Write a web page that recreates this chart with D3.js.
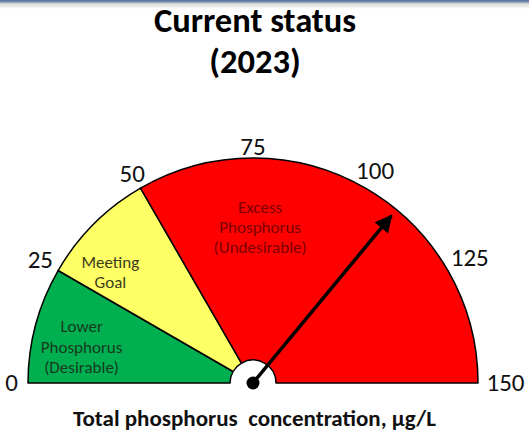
<!DOCTYPE html>
<meta charset="utf-8">
<style>
	body { margin: 0; background: #fff; }
	svg { font-family: Carlito, Calibri, Lato, sans-serif; }
</style>
<script src="https://d3js.org/d3.v7.min.js"></script>
<svg width="529" height="431" class="gauge"></svg>
<script>
	// gauge bands: [from, to], fill colour, label lines
	var bandStarts = [0, 25, 50];
	var bandEnds = [25, 50, 150];
	var bandColors = ["#00b050", "#ffff66", "#ff0000"];
	var bandLabels = [
		["Lower", "Phosphorus", "(Desirable)"],
		["Meeting", "Goal"],
		["Excess", "Phosphorus", "(Undesirable)"]
	];
	var bandTextColors = ["#173a1f", "#3d3d1a", "#7a0000"];
	var tickValues = [0, 25, 50, 75, 100, 125, 150];
	var currentValue = 108;

	var svg = d3.select(".gauge");
	var cx = 253, cy = 383, outerR = 225, innerR = 23;

	// top border strip
	var defs = svg.append("defs");
	var grad = defs.append("linearGradient")
		.attr("id", "topfade").attr("x1", 0).attr("y1", 0).attr("x2", 0).attr("y2", 1);
	grad.append("stop").attr("offset", "0%").attr("stop-color", "#4a6c9b");
	grad.append("stop").attr("offset", "25%").attr("stop-color", "#8a9bb5");
	grad.append("stop").attr("offset", "40%").attr("stop-color", "#d8d8d8");
	grad.append("stop").attr("offset", "100%").attr("stop-color", "#ffffff");
	svg.append("rect").attr("x", 0).attr("y", 0).attr("width", 529).attr("height", 9)
		.attr("fill", "url(#topfade)");

	// value -> angle (d3.arc convention: 0 = up, clockwise)
	var angle = d3.scaleLinear().domain([0, 150]).range([-Math.PI / 2, Math.PI / 2]);

	var g = svg.append("g").attr("transform", "translate(" + cx + "," + cy + ")");

	var arc = d3.arc().innerRadius(innerR).outerRadius(outerR);

	var bands = bandStarts.map(function(s, i) {
		return {start: s, end: bandEnds[i], color: bandColors[i], label: bandLabels[i], tc: bandTextColors[i]};
	});

	g.selectAll("path.band")
		.data(bands)
		.enter().append("path")
			.attr("class", "band")
			.attr("d", function(d) { return arc({startAngle: angle(d.start), endAngle: angle(d.end)}); })
			.attr("fill", function(d) { return d.color; })
			.attr("stroke", "#000")
			.attr("stroke-width", 1.5)
			.attr("stroke-linejoin", "round");

	// band labels, placed in polar coords (radius, gauge value)
	var labelPos = [
		{r: 175, v: 9.7},
		{r: 180, v: 31.3},
		{r: 155, v: 77.2}
	];
	bands.forEach(function(d, i) {
		var a = angle(labelPos[i].v);
		var lx = labelPos[i].r * Math.sin(a), ly = -labelPos[i].r * Math.cos(a);
		var lineH = 20.3;
		var t = g.append("text")
			.attr("text-anchor", "middle")
			.attr("font-size", 17)
			.attr("fill", d.tc);
		d.label.forEach(function(line, j) {
			t.append("tspan")
				.attr("x", lx)
				.attr("y", ly + (j - (d.label.length - 1) / 2) * lineH + 5)
				.text(line);
		});
	});

	// tick labels
	function tickR(v) {
		return 236 + String(v).length * 5.5 * Math.abs(Math.sin(angle(v)));
	}
	g.selectAll("text.tick")
		.data(tickValues)
		.enter().append("text")
			.attr("class", "tick")
			.attr("x", function(v) { return tickR(v) * Math.sin(angle(v)); })
			.attr("y", function(v) { return -tickR(v) * Math.cos(angle(v)) + 8; })
			.attr("text-anchor", "middle")
			.attr("font-size", 25)
			.attr("fill", "#111")
			.text(function(v) { return v; });

	// needle
	defs.append("marker")
		.attr("id", "arrow")
		.attr("viewBox", "0 0 10 10")
		.attr("refX", 9).attr("refY", 5)
		.attr("markerWidth", 5.5).attr("markerHeight", 5)
		.attr("markerUnits", "strokeWidth")
		.attr("orient", "auto")
		.append("path").attr("d", "M0,0L10,5L0,10z").attr("fill", "#000");

	var na = angle(currentValue), nr = 217;
	g.append("line")
		.attr("x1", 0).attr("y1", 0)
		.attr("x2", nr * Math.sin(na)).attr("y2", -nr * Math.cos(na))
		.attr("stroke", "#000")
		.attr("stroke-width", 3.5)
		.attr("marker-end", "url(#arrow)");
	g.append("circle").attr("r", 6.5).attr("fill", "#000");

	// titles
	svg.append("text").attr("x", 255).attr("y", 32)
		.attr("text-anchor", "middle").attr("font-size", 34.5).attr("font-weight", "bold")
		.text("Current status");
	svg.append("text").attr("x", 255).attr("y", 73)
		.attr("text-anchor", "middle").attr("font-size", 34.5).attr("font-weight", "bold")
		.text("(2023)");
	svg.append("text").attr("x", 254.5).attr("y", 426)
		.attr("text-anchor", "middle").attr("font-size", 23).attr("font-weight", "bold")
		.attr("fill", "#111")
		.text("Total phosphorus \u00a0concentration, \u00b5g/L");
</script>
